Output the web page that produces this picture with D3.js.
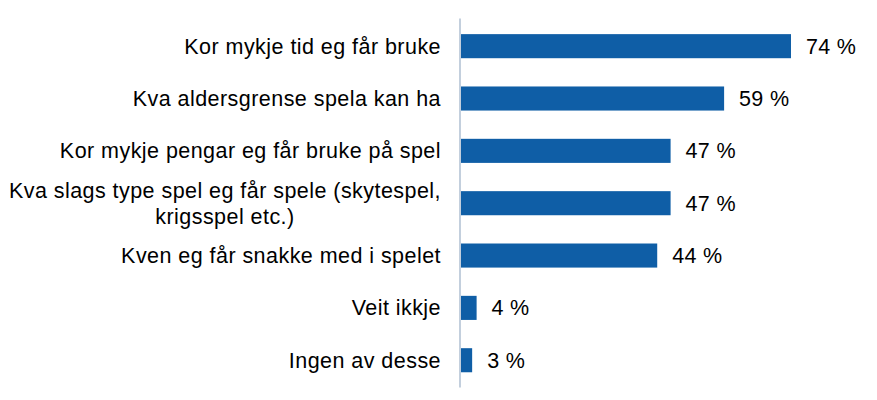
<!DOCTYPE html>
<html>
<head>
<meta charset="utf-8">
<script src="https://cdn.jsdelivr.net/npm/d3@7"></script>
<style>
  html, body { margin: 0; padding: 0; background: #fff; }
  svg text { font-family: Arial, "Liberation Sans", sans-serif; fill: #000; }
</style>
</head>
<body>
<svg id="chart" width="877" height="400" viewBox="0 0 877 400"></svg>
<script>
const categories = [
  "Kor mykje tid eg får bruke",
  "Kva aldersgrense spela kan ha",
  "Kor mykje pengar eg får bruke på spel",
  "Kva slags type spel eg får spele (skytespel, krigsspel etc.)",
  "Kven eg får snakke med i spelet",
  "Veit ikkje",
  "Ingen av desse"
];
const values = [74, 59, 47, 47, 44, 3.5, 2.5];

const svg = d3.select("#chart");
const fontSize = 21.5;
const axisX = 460;
const labelRight = 441;

const x = d3.scaleLinear().domain([0, 74]).range([axisX + 1, 791]);
const y = d3.scaleBand()
  .domain(categories)
  .range([20, 386.4])
  .paddingInner(0.54)
  .paddingOuter(0.27);

const data = categories.map((c, i) => ({ cat: c, value: values[i] }));

// bars
svg.append("g")
  .selectAll("rect")
  .data(data)
  .enter()
  .append("rect")
  .attr("x", x(0))
  .attr("y", (d) => y(d.cat))
  .attr("width", (d) => x(d.value) - x(0))
  .attr("height", y.bandwidth())
  .attr("fill", "#0F5EA6");

// value labels
svg.append("g")
  .selectAll("text")
  .data(data)
  .enter()
  .append("text")
  .attr("x", (d) => x(d.value) + 15)
  .attr("y", (d) => y(d.cat) + y.bandwidth() / 2)
  .attr("dy", "0.35em")
  .style("font-size", fontSize + "px")
  .style("letter-spacing", "0.3px")
  .text((d) => `${Math.round(d.value)} %`);

// vertical axis line
svg.append("line")
  .attr("x1", axisX)
  .attr("x2", axisX)
  .attr("y1", y.range()[0] - 1.5)
  .attr("y2", y.range()[1] + 1)
  .attr("stroke", "#C3CFDD")
  .attr("stroke-width", 2);

// category labels, wrapped when wider than the space left of the axis
const maxWidth = 435;
const lineHeight = 26;
const labelG = svg.append("g");

data.forEach((d) => {
  const probe = labelG.append("text")
    .style("font-size", fontSize + "px")
    .style("letter-spacing", "0.45px");
  const words = d.cat.split(" ");
  const lines = [];
  let line = [];
  words.forEach((w) => {
    line.push(w);
    probe.text(line.join(" "));
    if (probe.node().getComputedTextLength() > maxWidth && line.length > 1) {
      line.pop();
      lines.push(line.join(" "));
      line = [w];
    }
  });
  lines.push(line.join(" "));
  let blockWidth = 0;
  lines.forEach((l) => {
    probe.text(l);
    blockWidth = Math.max(blockWidth, probe.node().getComputedTextLength());
  });
  probe.remove();

  const cy = y(d.cat) + y.bandwidth() / 2;
  const top = cy - ((lines.length - 1) * lineHeight) / 2;
  const t = labelG.append("text")
    .style("font-size", fontSize + "px")
    .style("letter-spacing", "0.45px")
    .attr("text-anchor", lines.length > 1 ? "middle" : "end");
  lines.forEach((l, i) => {
    t.append("tspan")
      .attr("x", lines.length > 1 ? labelRight - blockWidth / 2 : labelRight)
      .attr("y", top + i * lineHeight)
      .attr("dy", "0.35em")
      .text(l);
  });
});
</script>
</body>
</html>
